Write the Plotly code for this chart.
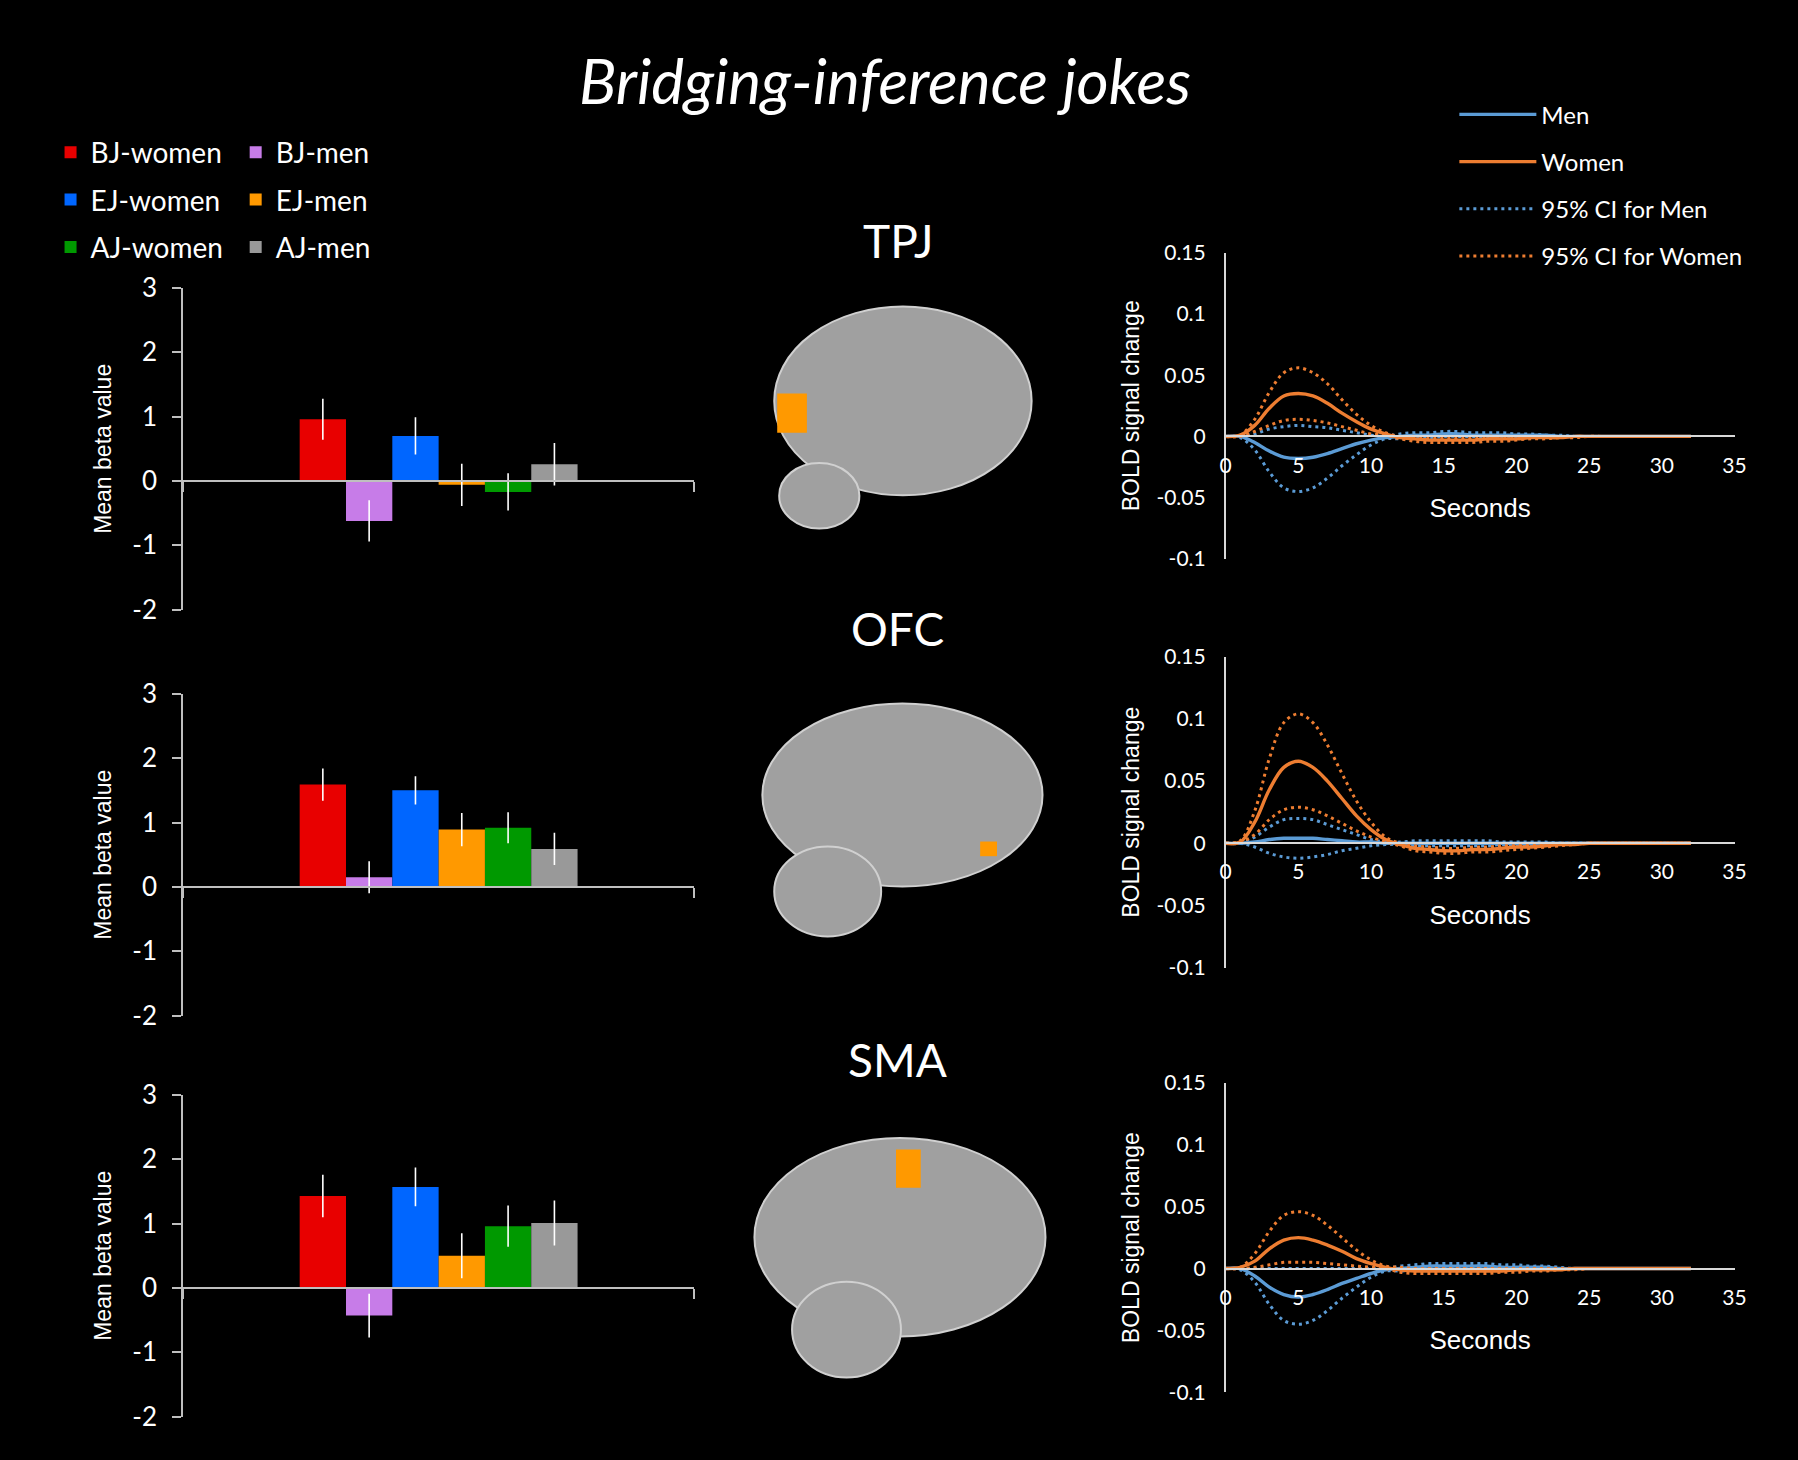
import plotly.graph_objects as go

W, H = 1798, 1460

# ---------------- data ----------------
bar_labels = ["BJ-women", "BJ-men", "EJ-women", "EJ-men", "AJ-women", "AJ-men"]
bar_colors = ["#e80000", "#c77ce8", "#0066ff", "#ff9900", "#009900", "#999999"]
regions = ["TPJ", "OFC", "SMA"]

tpj_beta = [0.96, -0.62, 0.70, -0.06, -0.17, 0.26]
tpj_err = [0.32, 0.32, 0.29, 0.33, 0.29, 0.33]
ofc_beta = [1.59, 0.15, 1.50, 0.89, 0.92, 0.59]
ofc_err = [0.25, 0.25, 0.22, 0.26, 0.24, 0.25]
sma_beta = [1.43, -0.43, 1.57, 0.50, 0.96, 1.01]
sma_err = [0.33, 0.34, 0.30, 0.35, 0.32, 0.35]

seconds = list(range(0, 33))

tpj_women = [0, 0.001, 0.009, 0.023, 0.033, 0.035, 0.033, 0.027, 0.019, 0.012, 0.006, 0.002, -0.001, -0.002, -0.003, -0.003, -0.003, -0.003, -0.002, -0.002, -0.002, -0.001, -0.001, -0.001, 0, 0, 0, 0, 0, 0, 0, 0, 0]
tpj_women_hi = [0, 0.001, 0.014, 0.036, 0.052, 0.056, 0.052, 0.043, 0.030, 0.018, 0.009, 0.003, 0.000, 0.000, -0.001, -0.001, -0.001, -0.001, 0.000, 0.000, 0.000, 0.000, 0.000, 0.000, 0, 0, 0, 0, 0, 0, 0, 0, 0]
tpj_women_lo = [0, 0.000, 0.004, 0.009, 0.013, 0.014, 0.013, 0.011, 0.008, 0.005, 0.002, 0.001, -0.002, -0.004, -0.005, -0.005, -0.005, -0.005, -0.004, -0.004, -0.003, -0.002, -0.002, -0.001, -0.001, 0, 0, 0, 0, 0, 0, 0, 0]
tpj_men = [0, 0.000, -0.005, -0.012, -0.017, -0.018, -0.017, -0.014, -0.010, -0.006, -0.003, -0.001, 0.000, 0.001, 0.001, 0.002, 0.002, 0.001, 0.001, 0.001, 0.001, 0.001, 0.001, 0.000, 0, 0, 0, 0, 0, 0, 0, 0, 0]
tpj_men_hi = [0, 0.000, 0.002, 0.006, 0.008, 0.009, 0.008, 0.007, 0.005, 0.003, 0.001, 0.000, 0.002, 0.003, 0.003, 0.004, 0.004, 0.003, 0.003, 0.003, 0.002, 0.002, 0.001, 0.001, 0, 0, 0, 0, 0, 0, 0, 0, 0]
tpj_men_lo = [0, -0.001, -0.011, -0.029, -0.042, -0.045, -0.042, -0.034, -0.024, -0.015, -0.007, -0.002, -0.002, -0.001, -0.001, 0.000, 0.000, 0.000, 0.000, 0.000, 0.000, 0.000, 0.000, 0.000, 0, 0, 0, 0, 0, 0, 0, 0, 0]

ofc_women = [0, 0.001, 0.017, 0.043, 0.061, 0.066, 0.061, 0.050, 0.036, 0.022, 0.011, 0.003, -0.001, -0.004, -0.005, -0.006, -0.006, -0.005, -0.005, -0.004, -0.003, -0.003, -0.002, -0.001, -0.001, 0, 0, 0, 0, 0, 0, 0, 0]
ofc_women_hi = [0, 0.002, 0.026, 0.068, 0.097, 0.104, 0.097, 0.079, 0.056, 0.034, 0.017, 0.005, 0.000, -0.002, -0.003, -0.004, -0.004, -0.003, -0.003, -0.002, -0.002, -0.001, -0.001, 0, 0, 0, 0, 0, 0, 0, 0, 0, 0]
ofc_women_lo = [0, 0.001, 0.007, 0.019, 0.027, 0.029, 0.027, 0.022, 0.016, 0.010, 0.005, 0.001, -0.002, -0.006, -0.007, -0.008, -0.008, -0.007, -0.007, -0.006, -0.005, -0.004, -0.003, -0.002, -0.001, 0, 0, 0, 0, 0, 0, 0, 0]
ofc_men = [0, 0.000, 0.001, 0.003, 0.004, 0.004, 0.004, 0.003, 0.002, 0.001, 0.001, 0.000, 0.000, 0.000, 0.000, 0.000, 0.000, 0.000, 0.000, 0.000, 0.000, 0.000, 0.000, 0, 0, 0, 0, 0, 0, 0, 0, 0, 0]
ofc_men_hi = [0, 0.000, 0.005, 0.013, 0.019, 0.020, 0.019, 0.015, 0.011, 0.007, 0.003, 0.001, 0.001, 0.002, 0.002, 0.002, 0.002, 0.002, 0.002, 0.001, 0.001, 0.001, 0.001, 0, 0, 0, 0, 0, 0, 0, 0, 0, 0]
ofc_men_lo = [0, 0.000, -0.003, -0.008, -0.011, -0.012, -0.011, -0.009, -0.006, -0.004, -0.002, -0.001, -0.001, -0.002, -0.002, -0.002, -0.002, -0.002, -0.002, -0.001, -0.001, -0.001, -0.001, 0, 0, 0, 0, 0, 0, 0, 0, 0, 0]

sma_women = [0, 0.001, 0.006, 0.016, 0.023, 0.025, 0.023, 0.019, 0.014, 0.008, 0.004, 0.001, -0.001, -0.002, -0.002, -0.002, -0.002, -0.002, -0.002, -0.002, -0.001, -0.001, -0.001, -0.001, 0, 0, 0, 0, 0, 0, 0, 0, 0]
sma_women_hi = [0, 0.001, 0.012, 0.030, 0.043, 0.046, 0.043, 0.035, 0.025, 0.015, 0.007, 0.002, 0.001, 0.000, 0.000, 0.000, 0, 0, 0, 0, 0, 0, 0, 0, 0, 0, 0, 0, 0, 0, 0, 0, 0]
sma_women_lo = [0, 0.000, 0.001, 0.003, 0.005, 0.005, 0.005, 0.004, 0.003, 0.002, 0.001, 0.000, -0.003, -0.004, -0.004, -0.004, -0.004, -0.004, -0.004, -0.003, -0.003, -0.002, -0.002, -0.001, -0.001, 0, 0, 0, 0, 0, 0, 0, 0]
sma_men = [0, 0.000, -0.006, -0.015, -0.021, -0.023, -0.021, -0.017, -0.012, -0.008, -0.004, -0.001, 0.000, 0.001, 0.002, 0.002, 0.002, 0.002, 0.002, 0.001, 0.001, 0.001, 0.001, 0.000, 0, 0, 0, 0, 0, 0, 0, 0, 0]
sma_men_hi = [0, 0.000, 0.000, 0.000, 0.000, 0.000, 0.000, 0.000, 0.000, 0.000, 0.000, 0.000, 0.002, 0.003, 0.004, 0.004, 0.004, 0.004, 0.004, 0.003, 0.003, 0.002, 0.002, 0.001, 0, 0, 0, 0, 0, 0, 0, 0, 0]
sma_men_lo = [0, -0.001, -0.011, -0.029, -0.042, -0.045, -0.042, -0.034, -0.024, -0.015, -0.007, -0.002, -0.002, -0.001, 0.000, 0.000, 0, 0, 0, 0, 0, 0, 0, 0, 0, 0, 0, 0, 0, 0, 0, 0, 0]

bar_ticks = [-2, -1, 0, 1, 2, 3]
bar_ticktext = ["-2", "-1", "0", "1", "2", "3"]
bold_tickvals = [-0.1, -0.05, 0, 0.05, 0.1, 0.15]
bold_ticktext = ["-0.1", "-0.05", "0", "0.05", "0.1", "0.15"]
sec_ticks = [0, 5, 10, 15, 20, 25, 30, 35]

# ---------------- style ----------------
MEN_C = "#5b9bd5"
WOMEN_C = "#ed7d31"
AX_C = "#bfbfbf"
CAL = "Lato, 'Open Sans', sans-serif"
ARIAL = "'Liberation Sans', Arial, sans-serif"


def px_x(v):
    return v / W


def px_y(v):
    return 1 - v / H


bar_panels = [(tpj_beta, tpj_err), (ofc_beta, ofc_err), (sma_beta, sma_err)]
line_panels = [
    (tpj_men, tpj_women, tpj_men_hi, tpj_men_lo, tpj_women_hi, tpj_women_lo),
    (ofc_men, ofc_women, ofc_men_hi, ofc_men_lo, ofc_women_hi, ofc_women_lo),
    (sma_men, sma_women, sma_men_hi, sma_men_lo, sma_women_hi, sma_women_lo),
]

bar_px = [(277, 606), (692, 1021), (1102, 1431)]
line_px = [(241, 554), (654, 972), (1090, 1406)]
bar_x_px = (179, 695)
line_x_px = (1232, 1746)
region_y_px = [229, 625, 1066]

fig = go.Figure()
layout = dict()

for p in range(3):
    beta, err = bar_panels[p]
    xa = "x" if p == 0 else f"x{p + 1}"
    ya = "y" if p == 0 else f"y{p + 1}"
    for i, lab in enumerate(bar_labels):
        women = "women" in lab
        fig.add_trace(go.Bar(
            x=["g"], y=[beta[i]], name=lab,
            marker=dict(color=bar_colors[i], line=dict(width=0)),
            error_y=dict(type="data", array=[err[i]], color="white", thickness=1.6, width=0),
            xaxis=xa, yaxis=ya, showlegend=(p == 0),
            legend="legend" if women else "legend2", legendgroup=lab,
        ))
    top, bot = bar_px[p]
    ydom = [px_y(bot), px_y(top)]
    zero_pos = ydom[0] + (0 - (-2)) / 5 * (ydom[1] - ydom[0])
    kx = "xaxis" if p == 0 else f"xaxis{p + 1}"
    ky = "yaxis" if p == 0 else f"yaxis{p + 1}"
    layout[kx] = dict(domain=[px_x(bar_x_px[0]), px_x(bar_x_px[1])], anchor="free", position=zero_pos,
                      type="category", range=[-0.5, 0.5], showline=True, linecolor=AX_C, linewidth=2,
                      ticks="outside", tickson="boundaries", ticklen=10, tickcolor=AX_C, tickwidth=2,
                      showticklabels=False, showgrid=False, zeroline=False)
    layout[ky] = dict(domain=ydom, anchor=xa, range=[-2, 3], tickvals=bar_ticks, ticktext=bar_ticktext,
                      showline=True, linecolor=AX_C, linewidth=2, ticks="outside", ticklen=9,
                      tickcolor=AX_C, tickwidth=2, showgrid=False, zeroline=False, ticklabelstandoff=10,
                      tickfont=dict(family=CAL, size=26, color="white"),
                      title=dict(text="Mean beta value", font=dict(family=ARIAL, size=23, color="white"), standoff=14))

for p in range(3):
    m, w, mhi, mlo, whi, wlo = line_panels[p]
    idx = p + 4
    xa, ya = f"x{idx}", f"y{idx}"
    specs = [
        (mhi, MEN_C, "3px,4px", "95% CI for Men", True, 3),
        (mlo, MEN_C, "3px,4px", "95% CI for Men", False, 3),
        (m, MEN_C, "solid", "Men", True, 1),
        (whi, WOMEN_C, "3px,4px", "95% CI for Women", True, 4),
        (wlo, WOMEN_C, "3px,4px", "95% CI for Women", False, 4),
        (w, WOMEN_C, "solid", "Women", True, 2),
    ]
    for ys, col, dash, nm, leg, rank in specs:
        fig.add_trace(go.Scatter(
            x=seconds, y=ys, mode="lines", name=nm,
            line=dict(color=col, dash=dash, width=3.4 if dash == "solid" else 3.0, shape="spline"),
            xaxis=xa, yaxis=ya, showlegend=(p == 0 and leg), legend="legend3",
            legendgroup=nm, legendrank=rank,
        ))
    top, bot = line_px[p]
    ydom = [px_y(bot), px_y(top)]
    zero_pos = ydom[0] + (0 - (-0.1)) / 0.25 * (ydom[1] - ydom[0])
    layout[f"xaxis{idx}"] = dict(domain=[px_x(line_x_px[0]), px_x(line_x_px[1])], anchor="free", position=zero_pos,
                                 range=[0, 35], tickvals=sec_ticks, showline=True, linecolor="#d9d9d9", linewidth=2,
                                 ticks="", showgrid=False, zeroline=False, ticklabelstandoff=10,
                                 tickfont=dict(family=CAL, size=21, color="white"),
                                 title=dict(text="Seconds", font=dict(family=ARIAL, size=26, color="white"), standoff=22))
    layout[f"yaxis{idx}"] = dict(domain=ydom, anchor=xa, range=[-0.1, 0.15], tickvals=bold_tickvals,
                                 ticktext=bold_ticktext, showline=True, linecolor="#d9d9d9", linewidth=1.5,
                                 ticks="", showgrid=False, zeroline=False, ticklabelstandoff=14,
                                 tickfont=dict(family=CAL, size=21, color="white"),
                                 title=dict(text="BOLD signal change", font=dict(family=ARIAL, size=23, color="white"), standoff=10))

annotations = [dict(text="<i>Bridging-inference jokes</i>", x=px_x(888), y=px_y(64), xref="paper", yref="paper",
                    showarrow=False, font=dict(family=CAL, size=62, color="white"), xanchor="center", yanchor="middle")]
for r, yy in zip(regions, region_y_px):
    annotations.append(dict(text=r, x=px_x(901), y=px_y(yy), xref="paper", yref="paper", showarrow=False,
                            font=dict(family=CAL, size=46, color="white"), xanchor="center", yanchor="middle"))

# brain slice placeholders (decorative)
shapes = []
brains = [
    [(776, 296, 1036, 489), (781, 456, 862, 523)],
    [(764, 702, 1047, 889), (776, 848, 884, 940)],
    [(756, 1146, 1050, 1349), (794, 1293, 904, 1391)],
]
blobs = [(779, 385, 809, 425), (984, 843, 1001, 858), (899, 1158, 924, 1197)]
for parts in brains:
    for (x0, y0, x1, y1) in parts:
        shapes.append(dict(type="circle", xref="paper", yref="paper", x0=px_x(x0), x1=px_x(x1),
                           y0=px_y(y1), y1=px_y(y0), fillcolor="#a0a0a0", line=dict(color="#d0d0d0", width=2),
                           layer="below"))
for (x0, y0, x1, y1) in blobs:
    shapes.append(dict(type="rect", xref="paper", yref="paper", x0=px_x(x0), x1=px_x(x1),
                       y0=px_y(y1), y1=px_y(y0), fillcolor="#ff9900", line=dict(width=0)))

leg_font = dict(family=CAL, size=28, color="white")
fig.update_layout(
    width=W, height=H, margin=dict(l=0, r=0, t=0, b=0),
    paper_bgcolor="black", plot_bgcolor="black",
    barmode="group", bargap=0.456, bargroupgap=0,
    annotations=annotations, shapes=shapes,
    legend=dict(x=px_x(45), y=px_y(113), xanchor="left", yanchor="top", font=leg_font,
                bgcolor="rgba(0,0,0,0)", tracegroupgap=8, itemclick=False),
    legend2=dict(x=px_x(232), y=px_y(113), xanchor="left", yanchor="top", font=leg_font,
                 bgcolor="rgba(0,0,0,0)", tracegroupgap=8, itemclick=False),
    legend3=dict(x=px_x(1463), y=px_y(77), xanchor="left", yanchor="top",
                 font=dict(family=CAL, size=24, color="white"), itemwidth=77,
                 bgcolor="rgba(0,0,0,0)", tracegroupgap=13, itemclick=False),
    **layout,
)

fig.write_html("out.html", config={"displayModeBar": False},
               post_script="document.body.style.margin='0';document.body.style.background='black';")
